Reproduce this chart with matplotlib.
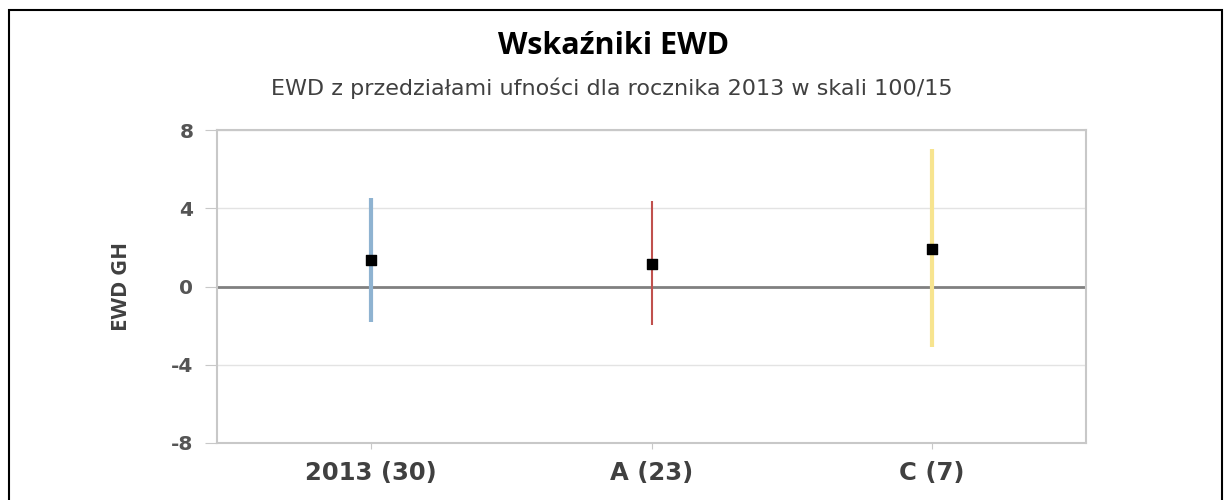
import matplotlib
matplotlib.use("Agg")
from matplotlib import pyplot as plt
from matplotlib.patches import Rectangle
import numpy as np

plt.rcParams['axes.unicode_minus'] = False

# values
categories = ["2013 (30)", "A (23)", "C (7)"]
ewd = [1.38, 1.17, 1.94]
ci_low = [-1.79, -1.99, -3.11]
ci_high = [4.54, 4.39, 7.04]
bar_colors = ["#8fb3d1", "#c0504d", "#f7e48f"]
bar_widths = [3, 1.5, 3]
yticks = [-8, -4, 0, 4, 8]

fig = plt.figure(figsize=(12.25, 5), dpi=100)
ax = fig.add_axes([217 / 1225, 1 - 443 / 500, (1086 - 217) / 1225, (443 - 130) / 500])

x = np.arange(len(categories))
for i in range(len(categories)):
    ax.plot([x[i], x[i]], [ci_low[i], ci_high[i]], color=bar_colors[i],
            lw=bar_widths[i], solid_capstyle="butt", zorder=3)
ax.scatter(x, ewd, marker="s", s=50, color="black", zorder=4)

ax.axhline(0, color="#808080", lw=2, zorder=2)
ax.set_xlim(-0.55, 2.55)
ax.set_ylim(-8, 8)
ax.set_yticks(yticks)
ax.set_xticks(x)
ax.set_xticklabels(categories)
ax.grid(axis="y", color="#e3e3e3", lw=1, zorder=1)
ax.set_axisbelow(True)

for s in ax.spines.values():
    s.set_color("#c8c8c8")
    s.set_linewidth(1.5)

ax.tick_params(axis="y", length=9, color="#c8c8c8", labelsize=14.5,
               labelcolor="#555555", pad=8)
ax.tick_params(axis="x", length=4, color="#c8c8c8", labelsize=17.5,
               labelcolor="#404040", pad=9)
for lab in ax.get_xticklabels():
    lab.set_fontweight("bold")
    lab.set_family("DejaVu Sans")
for lab in ax.get_yticklabels():
    lab.set_fontweight("bold")
    lab.set_family("DejaVu Sans")

ax.set_ylabel("EWD GH", fontsize=16, fontweight="bold", color="#404040",
              family="Open Sans", labelpad=28)

fig.text(614 / 1225, 1 - 46 / 500, "Wskaźniki EWD", ha="center", va="center",
         fontsize=22, fontweight="bold", family="Open Sans")
fig.text(612 / 1225, 1 - 88 / 500,
         "EWD z przedziałami ufności dla rocznika 2013 w skali 100/15",
         ha="center", va="center", fontsize=16, color="#404040", family="DejaVu Sans")

# frame around the picture (bottom edge is cut off)
fig.patches.append(Rectangle((9 / 1225, -0.1), (1222 - 9) / 1225, 1.1 - 10 / 500,
                             transform=fig.transFigure, fill=False,
                             edgecolor="black", lw=1.5))

fig.savefig("out.png", dpi=100)
